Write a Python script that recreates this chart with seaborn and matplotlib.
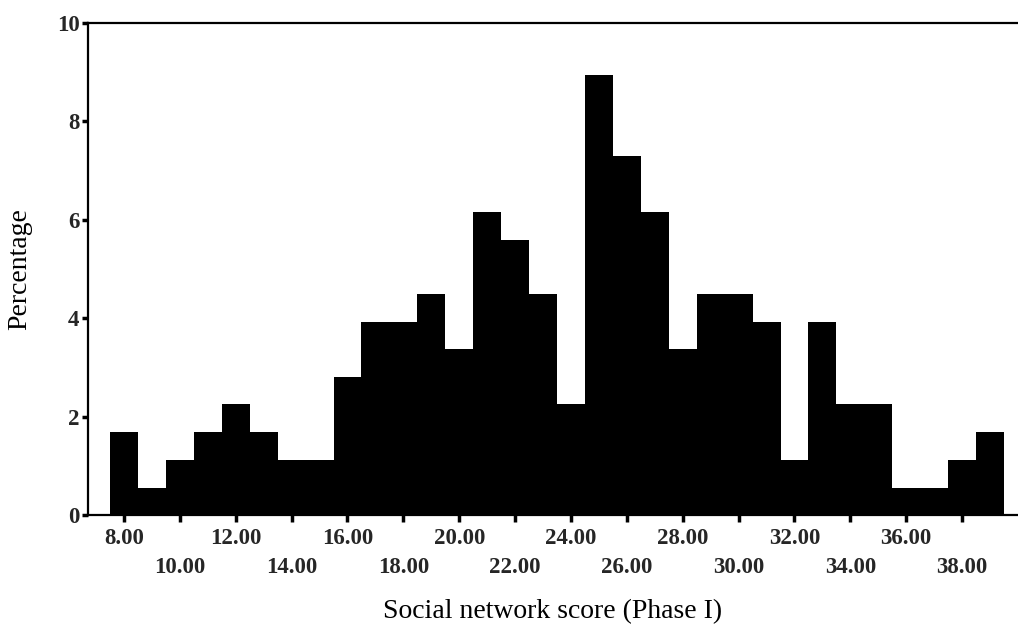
import numpy as np
import pandas as pd
import matplotlib
matplotlib.use("Agg")
import matplotlib.pyplot as plt
import seaborn as sns

# Social network score (Phase I): integer scores and the percentage of respondents at each
scores = [8, 9, 10, 11, 12, 13, 14, 15, 16, 17, 18, 19, 20, 21, 22, 23,
          24, 25, 26, 27, 28, 29, 30, 31, 32, 33, 34, 35, 36, 37, 38, 39]
percentages = [1.68, 0.56, 1.12, 1.68, 2.25, 1.68, 1.12, 1.12, 2.81, 3.93, 3.93, 4.49,
               3.37, 6.15, 5.59, 4.49, 2.25, 8.94, 7.30, 6.15, 3.37, 4.49, 4.49, 3.93,
               1.12, 3.93, 2.25, 2.25, 0.56, 0.56, 1.12, 1.68]
tick_values = [8, 10, 12, 14, 16, 18, 20, 22, 24, 26, 28, 30, 32, 34, 36, 38]
y_ticks = [0, 2, 4, 6, 8, 10]

df = pd.DataFrame({"score": scores, "pct": percentages})

sns.set_theme(style="white")
plt.rcParams["font.family"] = ["Liberation Serif", "DejaVu Serif"]

fig = plt.figure(figsize=(10.18, 6.36), dpi=100)
ax = fig.add_axes([0.0864, 0.190, 0.9136, 0.774])

sns.histplot(data=df, x="score", weights="pct", discrete=True,
             color="black", edgecolor="none", alpha=1.0, linewidth=0, ax=ax)

ax.set_xlim(6.71, 40.0)
ax.set_ylim(0, 10)

# alternate the tick labels over two rows
labels = [f"{v:.2f}" if i % 2 == 0 else f"\n{v:.2f}" for i, v in enumerate(tick_values)]
ax.set_xticks(tick_values)
ax.set_xticklabels(labels, fontsize=16.5, fontweight="bold", linespacing=1.55)
ax.set_yticks(y_ticks)
ax.set_yticklabels([str(v) for v in y_ticks], fontsize=16.5, fontweight="bold")

ax.tick_params(axis="x", direction="out", length=5, width=2.5, color="black",
               pad=4, bottom=True)
ax.tick_params(axis="y", direction="out", length=4, width=2.5, color="black",
               pad=2, left=True)

for side in ["left", "bottom", "top"]:
    ax.spines[side].set_visible(True)
    ax.spines[side].set_color("black")
    ax.spines[side].set_linewidth(1.6)
ax.spines["right"].set_visible(False)

ax.set_xlabel("Social network score (Phase I)", fontsize=20, labelpad=15, color="black")
ax.set_ylabel("Percentage", fontsize=20, labelpad=18, color="black")
ax.grid(False)

fig.savefig("out.png", dpi=100, facecolor="white")
